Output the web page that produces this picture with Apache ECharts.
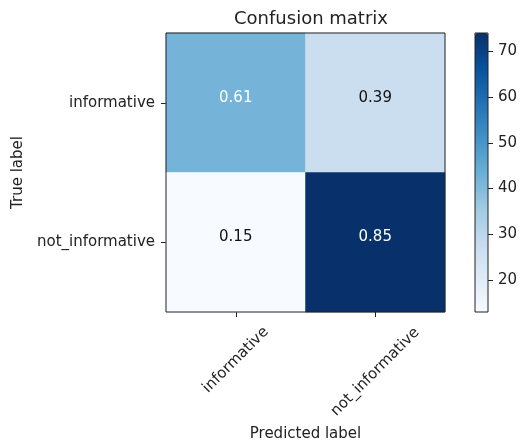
<!DOCTYPE html>
<html>
<head>
<meta charset="utf-8">
<script src="https://cdn.jsdelivr.net/npm/echarts@6/dist/echarts.min.js"></script>
<style>
  html, body { margin: 0; padding: 0; background: #fff; }
  #chart { width: 523px; height: 448px; }
</style>
</head>
<body>
<div id="chart"></div>
<script>
// Class names for the confusion matrix rows (true) and columns (predicted)
const trueLabels = ['informative', 'not_informative'];
const predictedLabels = ['informative', 'not_informative'];
// Raw counts, row = true class, column = predicted class
const counts = [
  [42, 27],
  [13, 74]
];
// Colorbar tick values
const colorbarTicks = [20, 30, 40, 50, 60, 70];

// matplotlib "Blues" colormap stops
const blues = ['#f7fbff', '#deebf7', '#c6dbef', '#9ecae1', '#6baed6',
               '#4292c6', '#2171b5', '#08519c', '#08306b'];

const font = 'DejaVu Sans';
const flat = counts.flat();
const cMin = Math.min(...flat);
const cMax = Math.max(...flat);

// Row-normalised values shown as text inside each cell
const normalized = counts.map(row => {
  const s = row.reduce((a, b) => a + b, 0);
  return row.map(v => v / s);
});
const normMax = Math.max(...normalized.flat());

const cells = [];
counts.forEach((row, i) => {
  row.forEach((v, j) => {
    const n = normalized[i][j];
    cells.push({
      value: [j, i, v],
      label: { color: n > normMax / 2 ? '#ffffff' : '#111111' },
      norm: n
    });
  });
});

const axisColor = '#222';
const labelStyle = { fontFamily: font, fontSize: 15, color: '#222' };

const chart = echarts.init(document.getElementById('chart'), null, { renderer: 'canvas' });
chart.setOption({
  animation: false,
  backgroundColor: '#fff',
  title: {
    text: 'Confusion matrix',
    left: 306,
    top: 5,
    textAlign: 'center',
    textStyle: { fontFamily: font, fontSize: 18, fontWeight: 'normal', color: '#222' }
  },
  grid: [
    { left: 166, top: 33, width: 279, height: 279, show: true, z: 10,
      backgroundColor: 'transparent', borderColor: axisColor, borderWidth: 1 },
    { left: 475, top: 33, width: 13, height: 279, show: true, z: 10,
      backgroundColor: 'transparent', borderColor: axisColor, borderWidth: 1 }
  ],
  xAxis: [
    {
      type: 'category', gridIndex: 0, data: predictedLabels, position: 'bottom',
      name: 'Predicted label', nameLocation: 'middle', nameGap: 115,
      nameTextStyle: labelStyle,
      axisLine: { show: false },
      axisTick: { show: true, alignWithLabel: true, length: 5, lineStyle: { color: axisColor } },
      axisLabel: Object.assign({
        interval: 0, rotate: 45, align: 'center', verticalAlign: 'middle', margin: 48,
        formatter: (v, i) => (i === 0 ? v : '')
      }, labelStyle),
      splitLine: { show: false }
    },
    {
      type: 'category', gridIndex: 0, data: predictedLabels, position: 'bottom',
      axisLine: { show: false },
      axisTick: { show: false },
      axisLabel: Object.assign({
        interval: 0, rotate: 45, align: 'center', verticalAlign: 'middle', margin: 60,
        formatter: (v, i) => (i === 1 ? v : '')
      }, labelStyle),
      splitLine: { show: false }
    },
    { type: 'category', gridIndex: 1, data: [''], show: false }
  ],
  yAxis: [
    {
      type: 'category', gridIndex: 0, data: trueLabels, inverse: true,
      name: 'True label', nameLocation: 'middle', nameGap: 138,
      nameTextStyle: labelStyle,
      axisLine: { show: false },
      axisTick: { show: true, alignWithLabel: true, length: 5, lineStyle: { color: axisColor } },
      axisLabel: Object.assign({ interval: 0, margin: 11 }, labelStyle),
      splitLine: { show: false }
    },
    {
      type: 'value', gridIndex: 1, min: cMin, max: cMax, position: 'right',
      axisLine: { show: false },
      axisTick: { show: true, length: 5, customValues: colorbarTicks, lineStyle: { color: axisColor } },
      axisLabel: Object.assign({ margin: 10, customValues: colorbarTicks }, labelStyle),
      splitLine: { show: false }
    }
  ],
  visualMap: {
    type: 'continuous',
    seriesIndex: 0,
    min: cMin,
    max: cMax,
    orient: 'vertical',
    left: 475,
    top: 33,
    itemWidth: 13,
    itemHeight: 279,
    padding: 0,
    calculable: false,
    hoverLink: false,
    inRange: { color: blues }
  },
  series: [
    {
      type: 'heatmap',
      xAxisIndex: 0,
      yAxisIndex: 0,
      data: cells,
      label: {
        show: true,
        fontFamily: font,
        fontSize: 15,
        offset: [0, -5],
        formatter: p => p.data.norm.toFixed(2)
      },
      emphasis: { disabled: true }
    }
  ]
});
</script>
</body>
</html>
